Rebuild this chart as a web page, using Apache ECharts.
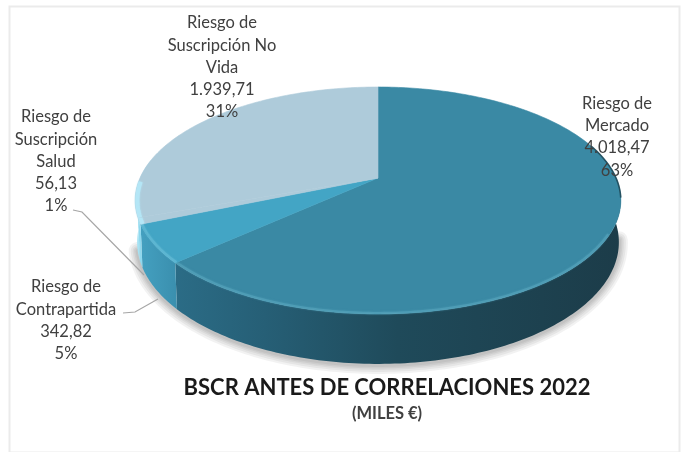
<!DOCTYPE html>
<html>
<head>
<meta charset="utf-8">
<style>html,body{margin:0;padding:0;background:#fff}#chart{width:682px;height:452px}</style>
<script src="https://cdn.jsdelivr.net/npm/echarts@6/dist/echarts.min.js"></script>
</head>
<body>
<div id="chart"></div>
<script>
// Slices, clockwise from the top of the disc
const categories = ['Riesgo de\nMercado', 'Riesgo de\nContrapartida', 'Riesgo de\nSuscripción\nSalud', 'Riesgo de\nSuscripción No\nVida'];
const values = [4018.47, 342.82, 56.13, 1939.71];
const titleText = 'BSCR ANTES DE CORRELACIONES 2022';
const subtitleText = '(MILES €)';

// Appearance per slice
const topColors = ['#3a89a4', '#43a5c5', '#aecbda', '#aecbda'];
const rimColors = ['#58a6bd', '#68bdd8', '#b4e6f6', '#b4e6f6'];
const wallColors = [
  [[0, '#2b6c86'], [0.2, '#265f76'], [0.5, '#1f4a5a'], [1, '#1c3c49']],
  [[0, '#44a0c0'], [1, '#3a8fae']],
  [[0, '#8fd8ee'], [1, '#8fd8ee']],
  [[0, '#a5e2f3'], [1, '#a5e2f3']]
];
const shadowWidths = [18, 14, 10, 7, 4];

// Label blocks: centre x, first line y; optional leader line
const labelBlocks = [
  { x: 617, y: 103.5 },
  { x: 66, y: 287, leader: [[123, 313], [135, 312], [158, 299]] },
  { x: 56, y: 117, leader: [[73, 210], [82, 212], [144, 275]] },
  { x: 222, y: 23 }
];

// Perspective disc projection: pie vertex, horizontal/vertical radii, tilt, rim depth
const disc = { cx: 378, cy: 178, rx: 238, ry: 109, tilt: 0.198, depth: 50, shrink: 0.992 };
const rimRange = [118, 268];
const total = values.reduce((a, b) => a + b, 0);
const spans = [];
values.reduce((acc, v) => {
  const next = acc + v / total * 360;
  spans.push([acc, next]);
  return next;
}, 0);

function project(deg) {
  const t = deg * Math.PI / 180;
  const u = Math.sin(t), v = -Math.cos(t), w = 1 - disc.tilt * v;
  return { x: disc.cx + disc.rx * u / w, y: disc.cy + disc.ry * v / w, v: v, w: w };
}
function lower(p) {
  return [disc.cx + (p.x - disc.cx) * disc.shrink, p.y + disc.depth * (1 - disc.tilt) / p.w];
}
function arc(a, b) {
  const pts = [], n = Math.max(2, Math.ceil(Math.abs(b - a)));
  for (let i = 0; i <= n; i++) pts.push(project(a + (b - a) * i / n));
  return pts;
}
function clampSpan(s, lo, hi) {
  const a = Math.max(s[0], lo), b = Math.min(s[1], hi);
  return b > a ? [a, b] : null;
}
function fmt(v) {
  const parts = v.toFixed(2).split('.');
  return parts[0].replace(/\B(?=(\d{3})+$)/g, '.') + ',' + parts[1];
}

// Soft shadow along the disc's lower edge, built from stacked translucent strokes
function renderShadow(params) {
  if (params.dataIndex !== 0) return { type: 'group', children: [] };
  const low = arc(100, 255).map(lower).map(p => [p[0], p[1] + 1]);
  return {
    type: 'group',
    children: shadowWidths.map(w => ({
      type: 'polyline', shape: { points: low },
      style: { fill: null, stroke: '#000', lineWidth: w, opacity: 0.05, lineCap: 'round', lineJoin: 'round' }
    }))
  };
}
function renderWall(params) {
  const i = params.dataIndex, s = clampSpan(spans[i], 80, 280);
  if (!s) return { type: 'group', children: [] };
  const upper = arc(s[0], s[1]);
  const pts = upper.map(p => [p.x, p.y]).concat(upper.slice().reverse().map(lower));
  const xs = pts.map(p => p[0]);
  return {
    type: 'polygon', shape: { points: pts },
    style: {
      fill: {
        type: 'linear', global: true, x: Math.min(...xs), y: 0, x2: Math.max(...xs), y2: 0,
        colorStops: wallColors[i].map(c => ({ offset: c[0], color: c[1] }))
      }
    }
  };
}
function renderTop(params) {
  const i = params.dataIndex, sp = spans[i];
  const pts = [[disc.cx, disc.cy]].concat(arc(sp[0], sp[1]).map(p => [p.x, p.y]));
  const children = [{
    type: 'polygon', shape: { points: pts },
    style: { fill: topColors[i], stroke: topColors[i], lineWidth: 0.6 }
  }];
  if (i === 0) {
    // Darker contour where the disc turns away on the right
    children.push({
      type: 'polyline', shape: { points: arc(72, 100).map(p => [p.x, p.y]) },
      style: { fill: null, stroke: '#1f4a5a', lineWidth: 1.6, opacity: 0.9 }
    });
  }
  const s = clampSpan(sp, rimRange[0], rimRange[1]);
  if (s) {
    const wide = i >= 2;
    const inset = wide ? 2.2 : 1.6;
    const rimPts = arc(s[0], s[1]).map(p => {
      const k = 1 - inset / Math.hypot(p.x - disc.cx, (p.y - disc.cy) * 2);
      return [disc.cx + (p.x - disc.cx) * k, disc.cy + (p.y - disc.cy) * k];
    });
    children.push({
      type: 'polyline', shape: { points: rimPts },
      style: {
        fill: null, stroke: rimColors[i], lineWidth: wide ? 4 : 2.4, opacity: wide ? 1 : 0.5,
        shadowBlur: 2, shadowColor: rimColors[i]
      }
    });
  }
  return { type: 'group', children: children };
}
function renderLabel(params, api) {
  const i = params.dataIndex, b = labelBlocks[i];
  const pct = Math.round(api.value(0) / total * 100) + '%';
  const text = categories[i] + '\n' + fmt(api.value(0)) + '\n' + pct;
  const children = [{
    type: 'text', x: b.x, y: b.y - 11,
    style: { text: text, fill: '#404040', font: '16.5px Lato', align: 'center', verticalAlign: 'top', lineHeight: 22.2 }
  }];
  if (b.leader) {
    children.push({
      type: 'polyline', shape: { points: b.leader },
      style: { fill: null, stroke: '#a6a6a6', lineWidth: 1.2 }
    });
  }
  return { type: 'group', children: children };
}

const chart = echarts.init(document.getElementById('chart'));
const common = { type: 'custom', coordinateSystem: 'none', data: values, silent: true, animation: false, clip: false };
chart.setOption({
  animation: false,
  backgroundColor: '#ffffff',
  title: {
    text: titleText, subtext: subtitleText,
    left: 387, top: 375, textAlign: 'center', itemGap: 4, padding: 0,
    textStyle: { fontFamily: 'Lato', fontWeight: 'bold', fontSize: 22, color: '#1a1a1a', lineHeight: 26 },
    subtextStyle: { fontFamily: 'Lato', fontWeight: 'bold', fontSize: 16.5, color: '#404040', lineHeight: 18 }
  },
  graphic: [{
    type: 'rect', silent: true,
    shape: { x: 9.5, y: 6.5, width: 670, height: 446 },
    style: { fill: 'none', stroke: '#ebebeb', lineWidth: 2 }
  }],
  series: [
    Object.assign({}, common, { renderItem: renderShadow, z: 2 }),
    Object.assign({}, common, { renderItem: renderWall, z: 3 }),
    Object.assign({}, common, { renderItem: renderTop, z: 4 }),
    Object.assign({}, common, { renderItem: renderLabel, z: 5 })
  ]
});
</script>
</body>
</html>
